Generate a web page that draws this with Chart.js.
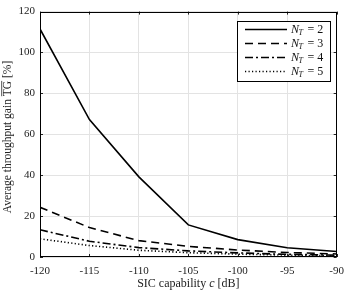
<!DOCTYPE html>
<html>
<head>
<meta charset="utf-8">
<script src="https://cdn.jsdelivr.net/npm/chart.js@4.4.1/dist/chart.umd.min.js"></script>
<style>
  html, body { margin: 0; padding: 0; background: #fff; }
  canvas { display: block; }
</style>
</head>
<body>
<canvas id="tg-chart" width="352" height="292"></canvas>
<script>
// SIC capability values on the x axis [dB]
const sicCapability = [-120, -115, -110, -105, -100, -95, -90];

// Average throughput gain TG [%] for each number of transmitters
const gainNT2 = [111.5, 67.2, 39.2, 15.7, 8.5, 4.5, 2.7];
const gainNT3 = [24.3, 14.4, 8.0, 5.2, 3.4, 2.2, 1.5];
const gainNT4 = [13.3, 7.7, 4.6, 3.0, 2.0, 1.3, 0.9];
const gainNT5 = [8.9, 5.6, 3.3, 2.1, 1.4, 0.9, 0.6];

const seriesNT = ['2', '3', '4', '5'];
const yTicks = [0, 20, 40, 60, 80, 100, 120];
const xTicks = [-120, -115, -110, -105, -100, -95, -90];

const serif = '"Liberation Serif", "DejaVu Serif", serif';
const dashes = [[], [8, 5], [8, 3, 2, 3], [1.2, 2.3]];

function toPoints(ys) {
    return sicCapability.map((x, i) => ({ x: x, y: ys[i] }));
}

const allSeries = [gainNT2, gainNT3, gainNT4, gainNT5];
const datasets = allSeries.map((ys, i) => ({
    label: 'N_T = ' + seriesNT[i],
    data: toPoints(ys),
    borderColor: '#000',
    borderWidth: 1.6,
    borderDash: dashes[i],
    pointRadius: 0,
    fill: false,
    tension: 0
}));

// Draws the box, inner ticks, axis titles and legend in MATLAB style
const matlabDecor = {
    id: 'matlabDecor',
    afterDraw(chart) {
        const ctx = chart.ctx;
        const a = chart.chartArea;
        const xs = chart.scales.x;
        const ys = chart.scales.y;
        ctx.save();

        // inner ticks on all four sides
        ctx.strokeStyle = '#222';
        ctx.lineWidth = 1;
        ctx.beginPath();
        xTicks.forEach(v => {
            const px = Math.round(xs.getPixelForValue(v)) + 0.5;
            ctx.moveTo(px, a.bottom); ctx.lineTo(px, a.bottom - 3);
            ctx.moveTo(px, a.top); ctx.lineTo(px, a.top + 3);
        });
        yTicks.forEach(v => {
            const py = Math.round(ys.getPixelForValue(v)) + 0.5;
            ctx.moveTo(a.left, py); ctx.lineTo(a.left + 3, py);
            ctx.moveTo(a.right, py); ctx.lineTo(a.right - 3, py);
        });
        ctx.stroke();

        // box
        ctx.strokeStyle = '#000';
        ctx.strokeRect(Math.round(a.left) + 0.5, Math.round(a.top) + 0.5,
            Math.round(a.right - a.left) - 1, Math.round(a.bottom - a.top) - 1);

        // x title: SIC capability c [dB]
        ctx.fillStyle = '#222';
        ctx.textBaseline = 'middle';
        const xParts = [['SIC capability ', ''], ['c', 'italic '], [' [dB]', '']];
        let w = 0;
        xParts.forEach(p => { ctx.font = p[1] + '12px ' + serif; w += ctx.measureText(p[0]).width; });
        let cx = (a.left + a.right) / 2 - w / 2;
        ctx.textAlign = 'left';
        xParts.forEach(p => {
            ctx.font = p[1] + '12px ' + serif;
            ctx.fillText(p[0], cx, 284);
            cx += ctx.measureText(p[0]).width;
        });

        // y title with overline on TG
        ctx.save();
        ctx.translate(8, 137);
        ctx.rotate(-Math.PI / 2);
        ctx.font = '11.5px ' + serif;
        const pre = 'Average throughput gain ';
        const tg = 'TG';
        const post = ' [%]';
        const tw = ctx.measureText(pre + tg + post).width;
        let sx = -tw / 2;
        ctx.fillText(pre, sx, 0);
        sx += ctx.measureText(pre).width;
        ctx.fillText(tg, sx, 0);
        const tgw = ctx.measureText(tg).width;
        ctx.lineWidth = 0.8;
        ctx.beginPath();
        ctx.moveTo(sx, -6.3); ctx.lineTo(sx + tgw, -6.3);
        ctx.strokeStyle = '#222';
        ctx.stroke();
        sx += tgw;
        ctx.fillText(post, sx, 0);
        ctx.restore();

        // legend
        const lx = 237.5, ly = 21.5, lw = 93, lh = 60;
        ctx.fillStyle = '#fff';
        ctx.fillRect(lx, ly, lw, lh);
        ctx.strokeStyle = '#000';
        ctx.lineWidth = 1;
        ctx.setLineDash([]);
        ctx.strokeRect(lx, ly, lw, lh);
        chart.data.datasets.forEach((ds, i) => {
            const ry = 29.5 + i * 14;
            ctx.beginPath();
            ctx.setLineDash(ds.borderDash);
            ctx.lineWidth = ds.borderWidth;
            ctx.moveTo(245, ry); ctx.lineTo(287, ry);
            ctx.stroke();
            ctx.setLineDash([]);
            ctx.fillStyle = '#111';
            let tx = 291;
            ctx.font = 'italic 12px ' + serif;
            ctx.fillText('N', tx, ry);
            tx += ctx.measureText('N').width;
            ctx.font = 'italic 8px ' + serif;
            ctx.fillText('T', tx - 0.5, ry + 3);
            tx += ctx.measureText('T').width + 1;
            ctx.font = '12px ' + serif;
            ctx.fillText(' = ' + seriesNT[i], tx, ry);
        });
        ctx.restore();
    }
};

new Chart(document.getElementById('tg-chart'), {
    type: 'line',
    data: { datasets: datasets },
    options: {
        responsive: false,
        devicePixelRatio: 1,
        animation: false,
        layout: { padding: { top: 7, right: 9, left: 0, bottom: 0 } },
        plugins: { legend: { display: false }, tooltip: { enabled: false } },
        scales: {
            x: {
                type: 'linear',
                min: -120,
                max: -90,
                afterFit: s => { s.height = 35; },
                afterBuildTicks: s => { s.ticks = xTicks.map(v => ({ value: v })); },
                grid: { color: '#e3e3e3', drawTicks: false },
                border: { display: false },
                ticks: { font: { family: serif, size: 11 }, color: '#222', padding: 8, maxRotation: 0 }
            },
            y: {
                type: 'linear',
                min: 0,
                max: 120,
                afterFit: s => { s.width = 40; },
                afterBuildTicks: s => { s.ticks = yTicks.map(v => ({ value: v })); },
                grid: { color: '#e3e3e3', drawTicks: false },
                border: { display: false },
                ticks: { font: { family: serif, size: 11 }, color: '#222', padding: 5 }
            }
        }
    },
    plugins: [matlabDecor]
});
</script>
</body>
</html>
